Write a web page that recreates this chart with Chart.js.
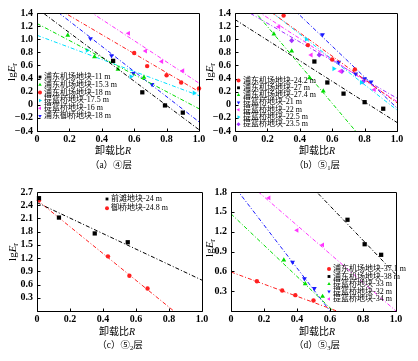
<!DOCTYPE html>
<html>
<head>
<meta charset="utf-8">
<script src="https://cdn.jsdelivr.net/npm/chart.js@4.4.0/dist/chart.umd.min.js"></script>
<style>
  body { margin: 0; background: #fff; width: 418px; height: 361px; position: relative; overflow: hidden;
         font-family: "Liberation Serif", "Noto Sans CJK SC", serif; color: #000; }
  canvas { position: absolute; }
  .t { position: absolute; white-space: nowrap; transform: translate(-50%, -50%); line-height: 1; }
  .yt { transform: translate(-50%, -50%) rotate(-90deg); font-size: 11px; }
  .xt { font-size: 10px; }
  .cap { font-size: 9.5px; }
  sub { font-size: 70%; vertical-align: -2px; }
</style>
</head>
<body>
<canvas id="ca" width="209" height="180" style="left:0;top:0"></canvas>
<canvas id="cb" width="209" height="180" style="left:209px;top:0"></canvas>
<canvas id="cc" width="209" height="181" style="left:0;top:180px"></canvas>
<canvas id="cd" width="209" height="181" style="left:209px;top:180px"></canvas>

<div class="t yt" style="left:12px;top:72px">lg<i>E</i><sub>r</sub></div>
<div class="t xt" style="left:113px;top:151px">卸载比<i>R</i></div>
<div class="t cap" style="left:111px;top:166px">（a）④层</div>

<div class="t yt" style="left:210px;top:72px">lg<i>E</i><sub>r</sub></div>
<div class="t xt" style="left:317px;top:151px">卸载比<i>R</i></div>
<div class="t cap" style="left:317px;top:166px">（b）⑤<sub>1</sub>层</div>

<div class="t yt" style="left:13px;top:252px">lg<i>E</i><sub>r</sub></div>
<div class="t xt" style="left:117px;top:332px">卸载比<i>R</i></div>
<div class="t cap" style="left:120px;top:346px">（c）⑤<sub>2</sub>层</div>

<div class="t yt" style="left:210px;top:248px">lg<i>E</i><sub>r</sub></div>
<div class="t xt" style="left:317px;top:332px">卸载比<i>R</i></div>
<div class="t cap" style="left:317px;top:346px">（d）⑤<sub>3</sub>层</div>

<script>
// (a) ④层
const labelsA = ['浦东机场地块-11 m', '浦东机场地块-15.3 m', '浦东机场地块-18 m',
                 '提篮桥地块-17.5 m', '提篮桥地块-16 m', '浦东御桥地块-18 m'];
const pointsA = [
  [[0.47, 0.67], [0.65, 0.19], [0.79, -0.01], [0.90, -0.12]],
  [[0.19, 1.06], [0.355, 0.73], [0.50, 0.54], [0.66, 0.42]],
  [[0.60, 0.79], [0.68, 0.59], [0.80, 0.45], [0.89, 0.34], [1.0, 0.25]],
  [[0.31, 0.83], [0.58, 0.43], [0.97, 0.18]],
  [[0.565, 1.09], [0.67, 0.82], [0.77, 0.66], [0.90, 0.52]],
  [[0.33, 1.01], [0.46, 0.75], [0.595, 0.48], [0.71, 0.31]]
];
// fitted line: lgEr at R=0 and at R=1
const fitsA = [[1.47, -0.38], [1.24, -0.06], [1.65, 0.20], [1.06, 0.14], [1.95, 0.33], [1.66, -0.26]];

// (b) ⑤1层
const labelsB = ['浦东机场地块-24.2 m', '浦东机场地块-27 m', '浦东机场地块-27.4 m', '提篮桥地块-21 m',
                 '提篮桥地块-22 m', '提篮桥地块-22.5 m', '提篮桥地块-23.5 m'];
const pointsB = [
  [[0.30, 1.36], [0.45, 0.91], [0.60, 0.69], [0.74, 0.54]],
  [[0.49, 0.66], [0.57, 0.34], [0.67, 0.17], [0.80, 0.04], [0.915, -0.06]],
  [[0.24, 1.08], [0.35, 0.82], [0.46, 0.41], [0.545, 0.21]],
  [[0.54, 1.07], [0.64, 0.65], [0.745, 0.47], [0.80, 0.40], [0.84, 0.35]],
  [[0.27, 1.19], [0.47, 0.76], [0.65, 0.51], [0.86, 0.23]],
  [[0.44, 1.00], [0.61, 0.55], [0.78, 0.34]],
  [[0.35, 0.98], [0.52, 0.76], [0.66, 0.51], [0.79, 0.35]]
];
const fitsB = [[1.81, 0.03], [1.30, -0.27], [1.78, -1.15], [2.31, -0.05], [1.65, 0.05], [1.85, -0.08], [1.53, 0.10]];

// (c) ⑤2层
const labelsC = ['前滩地块-24 m', '御桥地块-24.8 m'];
const pointsC = [
  [[0.012, 2.56], [0.133, 2.12], [0.35, 1.76], [0.55, 1.56]],
  [[0.012, 2.51], [0.43, 1.24], [0.56, 0.80], [0.67, 0.51]]
];
const fitsC = [[2.46, 0.70], [2.52, -0.52]];

// (d) ⑤3层
const labelsD = ['浦东机场地块-37.1 m', '浦东机场地块-38 m', '提篮桥地块-33 m', '提篮桥地块-32 m', '提篮桥地块-34 m'];
const pointsD = [
  [[0.157, 0.45], [0.31, 0.31], [0.39, 0.24], [0.50, 0.16]],
  [[0.706, 1.38], [0.81, 1.01], [0.91, 0.85]],
  [[0.32, 0.77], [0.45, 0.41], [0.555, 0.22]],
  [[0.373, 0.74], [0.445, 0.49], [0.505, 0.34]],
  [[0.23, 1.71], [0.40, 1.22], [0.555, 1.00]]
];
const fitsD = [[0.59, -0.33], [3.15, 0.55], [1.47, -0.90], [1.95, -1.30], [2.16, 0.00]];

// styles
const BLACK = '#000000', RED = '#ff2020', GREEN = '#00dd00', CYAN = '#00e0ff',
      MAGENTA = '#ff33ff', BLUE = '#1a1aff', PURPLE = '#a030ff';
const colorsA = [BLACK, GREEN, RED, CYAN, MAGENTA, BLUE];
const shapesA = ['square', 'up', 'circle', 'right', 'left', 'down'];
const colorsB = [RED, BLACK, GREEN, BLUE, MAGENTA, CYAN, PURPLE];
const shapesB = ['circle', 'square', 'up', 'down', 'left', 'right', 'diamond'];
const colorsC = [BLACK, RED];
const shapesC = ['square', 'circle'];
const colorsD = [RED, BLACK, GREEN, BLUE, MAGENTA];
const shapesD = ['circle', 'square', 'up', 'down', 'left'];

const shapeMap = {
  square: ['rect', 0, 3], circle: ['circle', 0, 2.2], up: ['triangle', 0, 2.8],
  down: ['triangle', 180, 2.8], left: ['triangle', 270, 2.8], right: ['triangle', 90, 2.8],
  diamond: ['rectRot', 0, 2.6]
};

const tickFont = { family: '"Liberation Serif", serif', size: 10, weight: 'bold' };

function fmt(v, hideZero) {
  if (Math.abs(v) < 1e-9) return hideZero ? '' : '0';
  return v.toFixed(1).replace('-', '\u2212');
}

const framePlugin = {
  id: 'frame',
  afterDatasetsDraw(chart) {
    const { ctx, chartArea: a, scales } = chart;
    const l = Math.round(a.left) + 0.5, t = Math.round(a.top) + 0.5;
    const r = Math.round(a.right) + 0.5, b = Math.round(a.bottom) + 0.5;
    ctx.save();
    ctx.strokeStyle = '#000';
    ctx.lineWidth = 1;
    ctx.beginPath();
    ctx.rect(l, t, r - l, b - t);
    scales.x.ticks.forEach(tk => {
      const px = Math.round(scales.x.getPixelForValue(tk.value)) + 0.5;
      ctx.moveTo(px, b); ctx.lineTo(px, b - 3);
    });
    scales.y.ticks.forEach(tk => {
      const py = Math.round(scales.y.getPixelForValue(tk.value)) + 0.5;
      ctx.moveTo(l, py); ctx.lineTo(l + 3, py);
    });
    ctx.stroke();
    ctx.restore();
  }
};

const legendPlugin = {
  id: 'boxLegend',
  afterDraw(chart, args, o) {
    const ctx = chart.ctx;
    let row = 0;
    ctx.save();
    ctx.font = o.font;
    ctx.textBaseline = 'middle';
    chart.data.datasets.forEach(ds => {
      if (!ds.inLegend) return;
      const y = o.y + row * o.dy;
      ctx.fillStyle = ds.backgroundColor;
      if (Chart.helpers && Chart.helpers.drawPoint) {
        Chart.helpers.drawPoint(ctx, { pointStyle: ds.pointStyle, rotation: ds.rotation, radius: 2, borderWidth: 0 }, o.mx, y);
      } else {
        ctx.fillRect(o.mx - 1.5, y - 1.5, 3, 3);
      }
      ctx.fillStyle = '#000';
      ctx.fillText(ds.label, o.tx, y);
      row++;
    });
    ctx.restore();
  }
};

function makePanel(id, labels, points, fits, colors, shapes, y, pad, yW, leg) {
  const datasets = [];
  labels.forEach((lab, i) => {
    const sh = shapeMap[shapes[i]];
    datasets.push({
      label: lab,
      inLegend: true,
      data: points[i].map(p => ({ x: p[0], y: p[1] })),
      backgroundColor: colors[i],
      borderColor: colors[i],
      borderWidth: 0,
      pointStyle: sh[0],
      rotation: sh[1],
      pointRadius: sh[2],
      clip: false
    });
    datasets.push({
      label: lab + ' fit',
      data: [{ x: 0, y: fits[i][0] }, { x: 1, y: fits[i][1] }],
      showLine: true,
      borderColor: colors[i],
      borderWidth: 1,
      borderDash: [4, 2, 1, 2],
      pointRadius: 0,
      clip: 0
    });
  });

  new Chart(document.getElementById(id), {
    type: 'scatter',
    data: { datasets: datasets },
    options: {
      responsive: false,
      animation: false,
      devicePixelRatio: 1,
      layout: { padding: pad },
      plugins: {
        legend: { display: false },
        tooltip: { enabled: false },
        boxLegend: leg
      },
      scales: {
        x: {
          type: 'linear', min: 0, max: 1,
          grid: { display: false, drawTicks: false }, border: { display: false },
          ticks: { stepSize: 0.2, autoSkip: false, maxRotation: 0, padding: 2, color: '#000', font: tickFont,
                   callback: v => fmt(v, false) },
          afterFit: s => { s.height = 16; s.paddingLeft = 0; s.paddingRight = 0; }
        },
        y: {
          type: 'linear', min: y[0], max: y[1],
          grid: { display: false, drawTicks: false }, border: { display: false },
          ticks: { stepSize: y[2], autoSkip: false, padding: 4, color: '#000', font: tickFont,
                   callback: v => fmt(v, y[3]) },
          afterFit: s => { s.width = yW; s.paddingTop = 0; s.paddingBottom = 0; }
        }
      }
    },
    plugins: [framePlugin, legendPlugin]
  });
}

const legFont = '8px "Liberation Serif", "Noto Sans CJK SC"';

makePanel('ca', labelsA, pointsA, fitsA, colorsA, shapesA, [-0.4, 1.4, 0.2, false],
  { left: 7, top: 13, right: 10, bottom: 33 }, 30,
  { mx: 40, tx: 44, y: 77, dy: 7.8, font: legFont });
makePanel('cb', labelsB, pointsB, fitsB, colorsB, shapesB, [-0.4, 1.4, 0.2, false],
  { left: 0, top: 13, right: 21, bottom: 33 }, 26,
  { mx: 29.5, tx: 34, y: 80.5, dy: 7.3, font: legFont });
makePanel('cc', labelsC, pointsC, fitsC, colorsC, shapesC, [0, 2.7, 0.3, true],
  { left: 7, top: 12, right: 7, bottom: 34 }, 30,
  { mx: 107, tx: 111, y: 19, dy: 9.3, font: legFont });
makePanel('cd', labelsD, pointsD, fitsD, colorsD, shapesD, [0, 1.8, 0.3, true],
  { left: 0, top: 12, right: 22, bottom: 34 }, 22,
  { mx: 120, tx: 124, y: 89, dy: 7.5, font: legFont });
</script>
</body>
</html>
